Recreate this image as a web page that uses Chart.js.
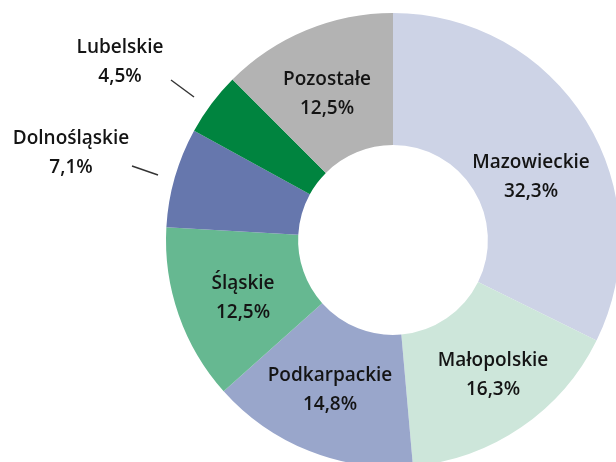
<!DOCTYPE html>
<html>
<head>
<meta charset="utf-8">
<script src="https://cdn.jsdelivr.net/npm/chart.js@4/dist/chart.umd.min.js"></script>
<style>
html,body{margin:0;padding:0;width:616px;height:462px;overflow:hidden;background:#fff;}
#wrap{position:absolute;left:0;top:0;width:786px;height:480px;}
</style>
</head>
<body>
<div id="wrap"><canvas id="c" width="786" height="480"></canvas></div>
<script>
const categories = ["Mazowieckie","Małopolskie","Podkarpackie","Śląskie","Dolnośląskie","Lubelskie","Pozostałe"];
const values = [32.3, 16.3, 14.8, 12.5, 7.1, 4.5, 12.5];
const valueLabels = ["32,3%","16,3%","14,8%","12,5%","7,1%","4,5%","12,5%"];
const colors = ["#cdd3e6","#cde6da","#99a6cb","#66b891","#6677ad","#00843f","#b3b3b3"];

// label placement (page pixels) — styling only
const labelPos = [
  {x:531,y:163},{x:493,y:361},{x:330,y:376},{x:243,y:284},
  {x:71,y:139,lead:[132,166,158,175]},{x:120,y:48,lead:[171,80,194,97]},{x:327,y:80}
];

const labelPlugin = {
  id:'labels',
  afterDraw(chart){
    const ctx = chart.ctx;
    ctx.save();
    ctx.fillStyle = '#141414';
    ctx.textAlign = 'center';
    ctx.textBaseline = 'middle';
    ctx.font = '600 19px "Open Sans", "Noto Sans", sans-serif';
    categories.forEach((c,i)=>{
      const p = labelPos[i];
      ctx.fillText(c, p.x, p.y);
      ctx.fillText(valueLabels[i], p.x, p.y+29);
      if (p.lead){
        ctx.strokeStyle = '#333';
        ctx.lineWidth = 1.4;
        ctx.beginPath();
        ctx.moveTo(p.lead[0], p.lead[1]);
        ctx.lineTo(p.lead[2], p.lead[3]);
        ctx.stroke();
      }
    });
    ctx.restore();
  }
};

new Chart(document.getElementById('c'), {
  type:'doughnut',
  data:{labels:categories, datasets:[{data:values, backgroundColor:colors, borderWidth:0}]},
  options:{
    responsive:false,
    animation:false,
    cutout:'41.8%',
    layout:{padding:13},
    plugins:{legend:{display:false}, tooltip:{enabled:false}}
  },
  plugins:[labelPlugin]
});
</script>
</body>
</html>
